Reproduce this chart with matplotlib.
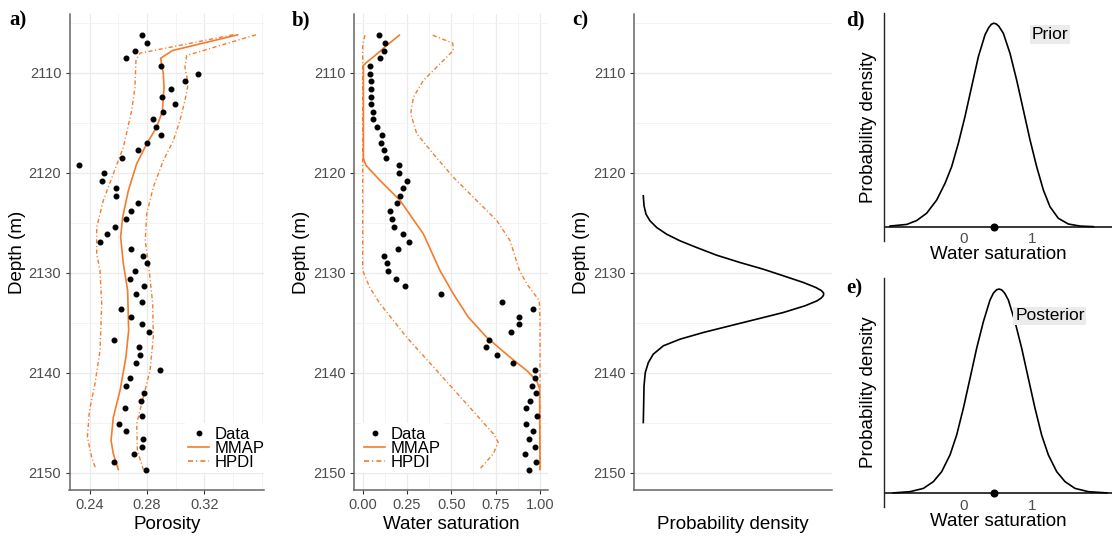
import matplotlib
matplotlib.use("Agg")
import matplotlib.pyplot as plt
import matplotlib.ticker as mticker
from matplotlib.lines import Line2D

plt.rcParams["font.family"] = ["Liberation Sans", "DejaVu Sans"]

W, H = 1120, 538
ORANGE = "#f47c2c"
GRID = "#ebebeb"
GRID_MINOR = "#f3f3f3"
TICK_TXT = "#4d4d4d"
HPDI_DASH = (3.0, 1.8, 0.8, 1.8)
TITLE_SIZE = 13.5
TICK_SIZE = 10.5

# Well log samples (depth in m)
depth = [2106.27, 2107.07, 2107.83, 2108.57, 2109.37, 2110.10, 2110.87, 2111.63,
         2112.40, 2113.17, 2113.93, 2114.67, 2115.47, 2116.23, 2117.00, 2117.77,
         2118.50, 2119.27, 2120.07, 2120.83, 2121.57, 2122.33, 2123.07, 2123.87,
         2124.63, 2125.40, 2126.17, 2126.90, 2127.67, 2128.33, 2129.07, 2129.80,
         2130.60, 2131.37, 2132.13, 2132.90, 2133.67, 2134.40, 2135.17, 2135.93,
         2136.70, 2137.47, 2138.23, 2139.00, 2139.77, 2140.53, 2141.30, 2142.07,
         2142.83, 2143.57, 2144.33, 2145.10, 2145.87, 2146.67, 2147.40, 2148.17,
         2148.93, 2149.70]
porosity = [0.2763, 0.2800, 0.2714, 0.2651, 0.2900, 0.3156, 0.3065, 0.2965,
            0.2902, 0.2995, 0.2909, 0.2842, 0.2860, 0.2900, 0.2798, 0.2737,
            0.2628, 0.2323, 0.2502, 0.2484, 0.2581, 0.2581, 0.2737, 0.2691,
            0.2651, 0.2577, 0.2519, 0.2470, 0.2691, 0.2772, 0.2800, 0.2714,
            0.2684, 0.2779, 0.2726, 0.2767, 0.2621, 0.2686, 0.2763, 0.2816,
            0.2572, 0.2742, 0.2751, 0.2721, 0.2893, 0.2679, 0.2651, 0.2779,
            0.2760, 0.2644, 0.2767, 0.2605, 0.2651, 0.2770, 0.2765, 0.2709,
            0.2570, 0.2791]
water_sat = [0.094, 0.126, 0.118, 0.096, 0.043, 0.041, 0.045, 0.049,
             0.045, 0.045, 0.060, 0.058, 0.079, 0.109, 0.103, 0.120,
             0.132, 0.207, 0.205, 0.248, 0.226, 0.209, 0.195, 0.156,
             0.164, 0.179, 0.226, 0.263, 0.199, 0.118, 0.135, 0.141,
             0.190, 0.237, 0.442, 0.788, 0.961, 0.880, 0.880, 0.838,
             0.714, 0.694, 0.759, 0.848, 0.974, 0.974, 0.957, 0.977,
             0.944, 0.919, 0.985, 0.921, 0.959, 0.936, 0.972, 0.914,
             0.979, 0.936]

# Porosity MMAP and HPDI bounds
por_mmap_d = [2106.23, 2107.80, 2108.57, 2110.13, 2111.47, 2113.93, 2115.47, 2117.13,
              2119.13, 2121.80, 2124.47, 2126.47, 2129.13, 2131.80, 2135.80, 2138.47,
              2141.80, 2144.47, 2146.80, 2148.13, 2149.70]
por_mmap = [0.3433, 0.2979, 0.2895, 0.2914, 0.2919, 0.2907, 0.2867, 0.2798,
            0.2728, 0.2670, 0.2630, 0.2616, 0.2635, 0.2665, 0.2672, 0.2653,
            0.2612, 0.2565, 0.2549, 0.2565, 0.2600]
por_lo_d = [2106.23, 2108.07, 2108.80, 2111.47, 2113.80, 2117.47, 2120.13, 2122.80,
            2125.47, 2128.13, 2129.80, 2133.13, 2137.80, 2141.13, 2143.80, 2146.47,
            2148.47, 2149.70]
por_lo = [0.3402, 0.2751, 0.2723, 0.2716, 0.2693, 0.2635, 0.2565, 0.2495,
          0.2449, 0.2449, 0.2472, 0.2484, 0.2472, 0.2437, 0.2398, 0.2384,
          0.2414, 0.2444]
por_hi_d = [2106.23, 2108.30, 2109.47, 2111.13, 2112.80, 2114.80, 2116.80, 2118.80,
            2121.47, 2124.13, 2126.80, 2129.13, 2133.13, 2136.47, 2139.80, 2142.47,
            2145.13, 2147.80, 2149.70]
por_hi = [0.3560, 0.3077, 0.3065, 0.3088, 0.3065, 0.3030, 0.2984, 0.2914,
          0.2844, 0.2798, 0.2788, 0.2810, 0.2840, 0.2844, 0.2821, 0.2774,
          0.2728, 0.2733, 0.2774]

# Water saturation MMAP and HPDI bounds
sw_mmap_d = [2106.27, 2107.30, 2108.30, 2108.97, 2109.30, 2118.50, 2118.80, 2119.30,
             2120.80, 2122.80, 2126.13, 2129.80, 2132.13, 2134.47, 2136.47, 2138.47,
             2139.80, 2140.80, 2141.63, 2149.70]
sw_mmap = [0.207, 0.135, 0.070, 0.023, 0.004, 0.004, 0.008, 0.019,
           0.098, 0.211, 0.342, 0.436, 0.511, 0.596, 0.699, 0.831,
           0.925, 0.981, 0.998, 1.000]
sw_lo_d = [2106.27, 2107.13, 2129.80, 2131.50, 2133.13, 2136.47, 2139.80, 2143.13,
           2146.13, 2146.97, 2148.13, 2149.63]
sw_lo = [0.013, 0.000, 0.000, 0.040, 0.098, 0.248, 0.417, 0.586,
         0.737, 0.764, 0.737, 0.662]
sw_hi_d = [2106.27, 2107.07, 2107.80, 2109.13, 2110.80, 2112.47, 2114.13, 2116.13,
           2118.13, 2120.47, 2122.80, 2124.80, 2126.80, 2129.73, 2131.13, 2132.80,
           2134.80, 2149.70]
sw_hi = [0.395, 0.508, 0.511, 0.436, 0.342, 0.286, 0.271, 0.305,
         0.398, 0.511, 0.643, 0.756, 0.831, 0.883, 0.925, 0.996,
         1.000, 1.000]

# Probability density over depth (normalised)
pd_depth = [2122.33, 2123.33, 2124.17, 2124.83, 2125.50, 2126.17, 2126.83, 2127.50,
            2128.27, 2129.00, 2129.67, 2130.33, 2131.00, 2131.50, 2131.80, 2132.05,
            2132.30, 2132.55, 2132.83, 2133.33, 2134.00, 2134.67, 2135.33, 2136.00,
            2136.67, 2137.33, 2138.17, 2139.00, 2140.00, 2141.33, 2145.00]
pd_dens = [0.000, 0.004, 0.015, 0.037, 0.074, 0.129, 0.203, 0.295,
           0.406, 0.535, 0.664, 0.775, 0.886, 0.955, 0.985, 0.998,
           0.997, 0.985, 0.962, 0.895, 0.775, 0.627, 0.480, 0.332,
           0.203, 0.111, 0.055, 0.028, 0.011, 0.004, 0.000]

# Prior / posterior of water saturation (normalised density)
prior_sw = [-1.073, -0.829, -0.683, -0.537, -0.390, -0.268, -0.171, -0.073,
            0.024, 0.122, 0.220, 0.317, 0.370, 0.410, 0.444, 0.480,
            0.520, 0.585, 0.683, 0.780, 0.878, 0.976, 1.073, 1.171,
            1.268, 1.390, 1.537, 1.707, 1.902]
prior_dens = [0.003, 0.011, 0.030, 0.066, 0.131, 0.213, 0.295, 0.410,
              0.541, 0.689, 0.836, 0.943, 0.978, 0.995, 1.000, 0.997,
              0.985, 0.951, 0.852, 0.721, 0.574, 0.426, 0.295, 0.180,
              0.098, 0.041, 0.013, 0.003, 0.000]
post_sw = [-1.024, -0.780, -0.585, -0.439, -0.317, -0.195, -0.098, 0.000,
           0.098, 0.195, 0.293, 0.390, 0.440, 0.485, 0.522, 0.560,
           0.605, 0.659, 0.756, 0.854, 0.951, 1.049, 1.146, 1.244,
           1.366, 1.488, 1.634, 1.829, 2.098]
post_dens = [0.002, 0.008, 0.024, 0.057, 0.106, 0.188, 0.285, 0.416,
             0.563, 0.710, 0.840, 0.946, 0.980, 0.996, 1.000, 0.996,
             0.980, 0.946, 0.840, 0.710, 0.563, 0.416, 0.285, 0.188,
             0.106, 0.057, 0.024, 0.008, 0.002]
sw_true = 0.444


def px_rect(left, top, right, bottom):
    return [left / W, 1 - bottom / H, (right - left) / W, (bottom - top) / H]


def depth_axes(ax, xgrid=True):
    ax.set_ylim(2151.75, 2104.15)
    ax.yaxis.set_major_locator(mticker.MultipleLocator(10))
    ax.yaxis.set_minor_locator(mticker.MultipleLocator(5))
    ax.grid(True, which="major", axis="y", color=GRID, lw=0.9)
    ax.grid(True, which="minor", axis="y", color=GRID_MINOR, lw=0.7)
    if xgrid:
        ax.grid(True, which="major", axis="x", color=GRID, lw=0.9)
        ax.grid(True, which="minor", axis="x", color=GRID_MINOR, lw=0.7)
    ax.set_axisbelow(True)
    for s in ("top", "right"):
        ax.spines[s].set_visible(False)
    for s in ("left", "bottom"):
        ax.spines[s].set_color("#666666")
        ax.spines[s].set_linewidth(1.1)
    ax.tick_params(which="major", length=2.9, width=0.8, color="#333333",
                   labelsize=TICK_SIZE, labelcolor=TICK_TXT, pad=3.0)
    ax.tick_params(which="minor", length=0)
    ax.set_ylabel("Depth (m)", fontsize=TITLE_SIZE, labelpad=2)


def add_legend(ax, x_px):
    handles = [
        Line2D([], [], ls="none", marker="o", ms=3.2, color="black"),
        Line2D([], [], color=ORANGE, lw=1.2),
        Line2D([], [], color=ORANGE, lw=1.2, dashes=HPDI_DASH),
    ]
    leg = ax.legend(handles, ["Data", "MMAP", "HPDI"], loc="center left",
                    bbox_to_anchor=(x_px / W, 1 - 448.3 / H),
                    bbox_transform=ax.figure.transFigure, fontsize=12,
                    frameon=True, facecolor="white", edgecolor="none",
                    framealpha=1, fancybox=False, borderpad=0.2,
                    handlelength=1.25, handletextpad=0.3, labelspacing=-0.05,
                    borderaxespad=0)
    return leg


fig = plt.figure(figsize=(W / 100, H / 100), dpi=100)

# a) porosity
ax_a = fig.add_axes(px_rect(69.5, 14, 264.3, 490))
ax_a.set_xlim(0.2259, 0.3619)
ax_a.xaxis.set_major_locator(mticker.FixedLocator([0.24, 0.28, 0.32]))
ax_a.xaxis.set_minor_locator(mticker.MultipleLocator(0.02))
ax_a.xaxis.set_major_formatter(mticker.FormatStrFormatter("%.2f"))
depth_axes(ax_a)
ax_a.plot(por_lo, por_lo_d, color=ORANGE, lw=1.0, dashes=HPDI_DASH)
ax_a.plot(por_hi, por_hi_d, color=ORANGE, lw=1.0, dashes=HPDI_DASH)
ax_a.plot(por_mmap, por_mmap_d, color=ORANGE, lw=1.2)
ax_a.plot(porosity, depth, ls="none", marker="o", ms=3.3, color="black")
ax_a.set_xlabel("Porosity", fontsize=TITLE_SIZE, labelpad=3)
add_legend(ax_a, 185)

# b) water saturation
ax_b = fig.add_axes(px_rect(354, 14, 548.3, 490))
ax_b.set_xlim(-0.049, 1.047)
ax_b.xaxis.set_major_locator(mticker.MultipleLocator(0.25))
ax_b.xaxis.set_minor_locator(mticker.MultipleLocator(0.125))
ax_b.xaxis.set_major_formatter(mticker.FormatStrFormatter("%.2f"))
depth_axes(ax_b)
ax_b.plot(sw_lo, sw_lo_d, color=ORANGE, lw=1.0, dashes=HPDI_DASH)
ax_b.plot(sw_hi, sw_hi_d, color=ORANGE, lw=1.0, dashes=HPDI_DASH)
ax_b.plot(sw_mmap, sw_mmap_d, color=ORANGE, lw=1.2)
ax_b.plot(water_sat, depth, ls="none", marker="o", ms=3.3, color="black")
ax_b.set_xlabel("Water saturation", fontsize=TITLE_SIZE, labelpad=3)
add_legend(ax_b, 361)

# c) probability density over depth
ax_c = fig.add_axes(px_rect(634, 14, 832.3, 490))
ax_c.set_xlim(-0.0515, 1.046)
depth_axes(ax_c, xgrid=False)
ax_c.set_xticks([])
ax_c.plot(pd_dens, pd_depth, color="black", lw=1.2)
ax_c.set_xlabel("Probability density", fontsize=TITLE_SIZE, labelpad=19)


def density_axes(ax, ytop, ybot):
    ax.set_xlim(-1.161, 2.171)
    ax.set_ylim(ybot, ytop)
    for s in ("top", "right", "bottom"):
        ax.spines[s].set_visible(False)
    ax.spines["left"].set_color("#222222")
    ax.spines["left"].set_linewidth(1.0)
    ax.axhline(0, color="black", lw=1.1, zorder=1)
    ax.set_yticks([])
    ax.set_xticks([0, 1])
    ax.set_xticklabels(["0", "1"])
    ax.tick_params(axis="x", length=0, labelsize=11, labelcolor=TICK_TXT, pad=-6)
    ax.set_xlabel("Water saturation", fontsize=TITLE_SIZE, labelpad=0)
    ax.set_ylabel("Probability density", fontsize=TITLE_SIZE, labelpad=5)


LABEL_BOX = dict(boxstyle="square,pad=0.1", facecolor="#ebebeb", edgecolor="none")

# d) prior
ax_d = fig.add_axes(px_rect(884, 13.3, 1111.7, 240.7))
density_axes(ax_d, 1.049, -0.069)
ax_d.plot(prior_sw, prior_dens, color="black", lw=1.2)
ax_d.plot([sw_true], [0], ls="none", marker="o", ms=4.8, color="black", clip_on=False)
ax_d.text(1.267, 0.945, "Prior", fontsize=12.5, ha="center", va="center", bbox=LABEL_BOX)

# e) posterior
ax_e = fig.add_axes(px_rect(884, 278, 1111.7, 507.3))
density_axes(ax_e, 1.054, -0.0685)
ax_e.plot(post_sw, post_dens, color="black", lw=1.2)
ax_e.plot([sw_true], [0], ls="none", marker="o", ms=4.8, color="black", clip_on=False)
ax_e.text(1.267, 0.869, "Posterior", fontsize=12.5, ha="center", va="center", bbox=LABEL_BOX)

# panel letters
for lbl, x_px, y_px in [("a)", 9, 20), ("b)", 292, 20), ("c)", 572, 20),
                        ("d)", 846, 20), ("e)", 846, 288)]:
    fig.text(x_px / W, 1 - y_px / H, lbl, fontsize=15, fontweight="bold",
             family="Liberation Serif", ha="left", va="center")

fig.savefig("out.png", dpi=100)
